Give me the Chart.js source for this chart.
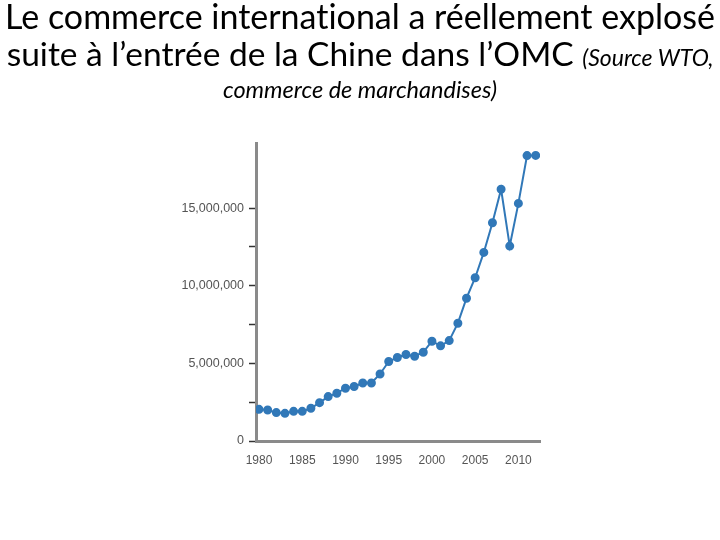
<!DOCTYPE html>
<html>
<head>
<meta charset="utf-8">
<script src="https://cdn.jsdelivr.net/npm/chart.js@4"></script>
<style>
body{margin:0;background:#fff;}
#wrap{position:relative;width:720px;height:540px;overflow:hidden;}
#chart{position:absolute;left:0;top:0;}
.line{position:absolute;left:0;width:720px;text-align:center;white-space:nowrap;font-family:Lato,"Open Sans",sans-serif;color:#000;font-variant-ligatures:none;}
.small{font-style:italic;font-size:23px;}
</style>
</head>
<body>
<div id="wrap">
<canvas id="chart" width="720" height="540"></canvas>
<div class="line" style="top:-5px;font-size:34px;">Le commerce international a réellement explosé</div>
<div class="line" style="top:33px;font-size:33.5px;">suite à l’entrée de la Chine dans l’OMC <span class="small">(Source WTO,</span></div>
<div class="line small" style="top:75px;font-size:23.5px;">commerce de marchandises)</div>
</div>
<script>
// -----------------------------
// DATA
// -----------------------------

const years = [1980,1981,1982,1983,1984,1985,1986,1987,1988,1989,1990,1991,1992,1993,1994,1995,1996,1997,1998,1999,2000,2001,2002,2003,2004,2005,2006,2007,2008,2009,2010,2011,2012];

const exportsValue = [2040000,2000000,1830000,1780000,1910000,1910000,2110000,2470000,2860000,3080000,3400000,3510000,3740000,3740000,4320000,5120000,5380000,5570000,5460000,5720000,6430000,6130000,6470000,7590000,9200000,10520000,12150000,14060000,16220000,12560000,15310000,18390000,18400000];

const xTickValues = [1980,1985,1990,1995,2000,2005,2010];
const yTickValues = [0,2500000,5000000,7500000,10000000,12500000,15000000];

const points = years.map((y,i)=>({x:y,y:exportsValue[i]}));

// -----------------------------
// CHART
// -----------------------------

const ctx = document.getElementById("chart").getContext("2d");

new Chart(ctx,{
type:"line",
data:{
datasets:[{
data:points,
borderColor:"#3178b8",
backgroundColor:"#3178b8",
borderWidth:2,
pointRadius:3.5,
pointHoverRadius:3.5,
tension:0
}]
},
options:{
responsive:false,
animation:false,
locale:"en-US",
layout:{padding:{left:100,right:180,top:143,bottom:60}},
plugins:{legend:{display:false},tooltip:{enabled:false}},
scales:{
x:{
type:"linear",
min:1979.65,
max:2012.5,
afterBuildTicks:s=>{s.ticks=xTickValues.map(v=>({value:v}));},
afterFit:s=>{s.height=39;},
grid:{display:false},
border:{color:"#8a8a8a",width:3},
ticks:{color:"#555",font:{family:"Liberation Sans",size:12},padding:4,maxRotation:0,callback:v=>String(v)}
},
y:{
min:0,
max:19200000,
afterBuildTicks:s=>{s.ticks=yTickValues.map(v=>({value:v}));},
afterFit:s=>{s.width=156;},
grid:{drawOnChartArea:false,tickLength:7,tickColor:"#333",tickWidth:1.5},
border:{color:"#8a8a8a",width:3},
ticks:{color:"#555",font:{family:"Liberation Sans",size:12.5},padding:5,
callback:v=>v%5000000===0?v.toLocaleString("en-US"):""}
}
}
}
});
</script>
</body>
</html>
